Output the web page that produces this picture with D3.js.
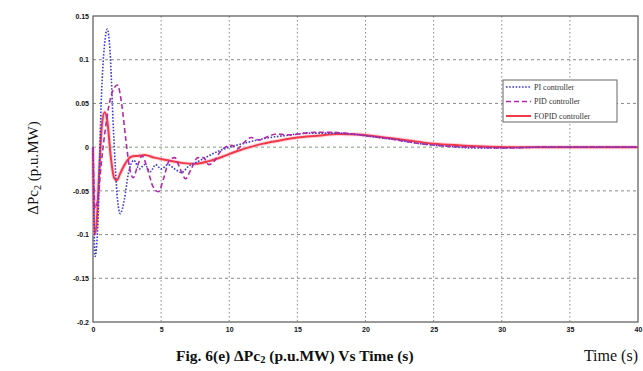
<!DOCTYPE html>
<html>
<head>
<meta charset="utf-8">
<script src="https://cdn.jsdelivr.net/npm/d3@7"></script>
<style>
  html, body { margin: 0; padding: 0; background: #fff; }
  svg { display: block; }
  .tick text { font-family: "Liberation Sans", Arial, sans-serif; font-weight: bold; font-size: 7px; fill: #111; }
</style>
</head>
<body>
<svg id="chart" width="643" height="371"></svg>
<script>
// Axis ticks
const xTicks = [0, 5, 10, 15, 20, 25, 30, 35, 40];
const yTicks = [-0.2, -0.15, -0.1, -0.05, 0, 0.05, 0.1, 0.15];
const yTickLabels = ["-0.2", "-0.15", "-0.1", "-0.05", "0", "0.05", "0.1", "0.15"];

// PI controller response
const piTime = [0, 0.15, 0.35, 0.6, 0.9, 1.05, 1.25, 1.5, 1.8, 2.0, 2.3, 2.6, 3.0, 3.4, 3.8, 4.2, 4.6, 5.0, 5.5, 6.0, 6.5, 7.0, 7.5, 8.0, 9.0, 10, 11, 12, 13, 14, 15, 16, 17, 18, 19, 20, 22, 24, 26, 28, 30, 33, 40];
const piValues = [0, -0.125, -0.09, 0.05, 0.125, 0.135, 0.11, 0.02, -0.06, -0.076, -0.06, -0.03, -0.015, -0.025, -0.02, -0.028, -0.02, -0.025, -0.02, -0.025, -0.029, -0.022, -0.018, -0.014, -0.006, 0.0, 0.004, 0.008, 0.011, 0.013, 0.015, 0.016, 0.016, 0.016, 0.015, 0.013, 0.009, 0.004, 0.001, -0.001, -0.001, 0, 0];

// PID controller response
const pidTime = [0, 0.15, 0.35, 0.6, 0.9, 1.2, 1.5, 1.8, 2.1, 2.4, 2.7, 2.95, 3.3, 3.6, 4.0, 4.4, 4.8, 5.2, 5.6, 6.0, 6.4, 6.8, 7.2, 7.7, 8.1, 8.5, 8.9, 9.3, 9.7, 10.2, 10.6, 11.0, 11.6, 12.2, 12.8, 13.5, 14.5, 15.5, 16.5, 17.5, 18.5, 20, 22, 24, 26, 28, 30, 33, 40];
const pidValues = [0, -0.07, -0.06, -0.02, 0.02, 0.05, 0.066, 0.071, 0.05, 0.01, -0.025, -0.035, -0.02, -0.01, -0.025, -0.045, -0.051, -0.035, -0.015, -0.012, -0.025, -0.036, -0.025, -0.012, -0.012, -0.02, -0.016, -0.006, 0.0, 0.002, -0.002, 0.004, 0.011, 0.008, 0.012, 0.015, 0.014, 0.016, 0.017, 0.017, 0.016, 0.013, 0.009, 0.004, 0.001, 0, -0.001, 0, 0];

// FOPID controller response
const fopidTime = [0, 0.1, 0.25, 0.45, 0.65, 0.85, 1.05, 1.3, 1.55, 1.75, 2.0, 2.4, 2.8, 3.3, 3.8, 4.5, 5.5, 6.5, 7.5, 8.5, 9.5, 10.5, 11.5, 12.5, 13.5, 15, 16.5, 18, 19.5, 21, 23, 25, 27, 29, 31, 40];
const fopidValues = [0, -0.1, -0.09, -0.03, 0.025, 0.04, 0.03, -0.01, -0.035, -0.038, -0.03, -0.018, -0.011, -0.01, -0.009, -0.012, -0.015, -0.018, -0.019, -0.016, -0.011, -0.005, 0.0, 0.004, 0.007, 0.011, 0.013, 0.015, 0.0145, 0.012, 0.008, 0.004, 0.002, 0.0005, 0, 0];

const seriesNames = ["PI controller", "PID controller", "FOPID controller"];

const svg = d3.select("#chart");
const plot = { left: 93, right: 638, top: 16, bottom: 322 };

const x = d3.scaleLinear().domain([0, 40]).range([plot.left, plot.right]);
const y = d3.scaleLinear().domain([-0.2, 0.15]).range([plot.bottom, plot.top]);

// Grid lines
const grid = svg.append("g");
grid.selectAll("line.vg").data(xTicks.slice(1, -1)).join("line")
  .attr("x1", d => x(d)).attr("x2", d => x(d))
  .attr("y1", plot.top).attr("y2", plot.bottom)
  .attr("stroke", "#8a8a8a").attr("stroke-width", 1).attr("stroke-dasharray", "1.5,2.5");
grid.selectAll("line.hg").data(yTicks.slice(1, -1)).join("line")
  .attr("x1", plot.left).attr("x2", plot.right)
  .attr("y1", d => y(d)).attr("y2", d => y(d))
  .attr("stroke", d => d === 0 ? "#7aa07a" : "#8a8a8a").attr("stroke-width", 1).attr("stroke-dasharray", "3,3");

// Axes
const xAxis = d3.axisBottom(x).tickValues(xTicks).tickSize(0).tickPadding(5).tickFormat(d3.format("d"));
const yAxis = d3.axisLeft(y).tickValues(yTicks).tickSize(0).tickPadding(4)
  .tickFormat((d, i) => yTickLabels[i]);
svg.append("g").attr("transform", `translate(0,${plot.bottom})`).call(xAxis).call(g => g.select(".domain").remove());
svg.append("g").attr("transform", `translate(${plot.left},0)`).call(yAxis).call(g => g.select(".domain").remove());

// Plot frame
svg.append("rect")
  .attr("x", plot.left).attr("y", plot.top)
  .attr("width", plot.right - plot.left).attr("height", plot.bottom - plot.top)
  .attr("fill", "none").attr("stroke", "#555").attr("stroke-width", 1.2);

const line = d3.line().curve(d3.curveMonotoneX).x(d => x(d[0])).y(d => y(d[1]));
const zip = (t, v) => t.map((tt, i) => [tt, v[i]]);

const styles = [
  { color: "#3a3ad8", width: 1.6, dash: "1.6,1.6" },
  { color: "#b02aa8", width: 1.6, dash: "5,3" },
  { color: "#f03a4a", width: 2.0, dash: null }
];
const data = [zip(piTime, piValues), zip(pidTime, pidValues), zip(fopidTime, fopidValues)];

const curves = svg.append("g");
// soft halo under the FOPID trace
curves.append("path").datum(data[2]).attr("d", line)
  .attr("fill", "none").attr("stroke", "#ffb0c0").attr("stroke-width", 4).attr("opacity", 0.5);
[2, 0, 1].forEach(i => {
  curves.append("path").datum(data[i]).attr("d", line)
    .attr("fill", "none").attr("stroke", styles[i].color)
    .attr("stroke-width", styles[i].width)
    .attr("stroke-dasharray", styles[i].dash);
});

// Legend
const lg = svg.append("g").attr("transform", "translate(503,80)");
lg.append("rect").attr("width", 114).attr("height", 42)
  .attr("fill", "#fff").attr("stroke", "#666").attr("stroke-width", 1);
seriesNames.forEach((name, i) => {
  const yy = 7 + i * 14.5;
  lg.append("line").attr("x1", 3).attr("x2", 28).attr("y1", yy).attr("y2", yy)
    .attr("stroke", styles[i].color).attr("stroke-width", styles[i].width)
    .attr("stroke-dasharray", styles[i].dash);
  lg.append("text").attr("x", 31).attr("y", yy + 2.5)
    .attr("font-family", "Liberation Serif, serif").attr("font-size", 8).attr("fill", "#333")
    .text(name);
});

// Y-axis title
const yt = svg.append("text")
  .attr("transform", "translate(38,168) rotate(-90)")
  .attr("text-anchor", "middle")
  .attr("font-family", "Liberation Serif, 'Times New Roman', serif")
  .attr("font-size", 15).attr("fill", "#111");
yt.append("tspan").text("ΔPc");
yt.append("tspan").attr("font-size", 10).attr("dy", 3).text("2");
yt.append("tspan").attr("dy", -3).text(" (p.u.MW)");

// Caption
const cap = svg.append("text").attr("x", 176).attr("y", 361)
  .attr("font-family", "Liberation Serif, 'Times New Roman', serif")
  .attr("font-size", 15.5).attr("font-weight", "bold").attr("fill", "#111");
cap.append("tspan").text("Fig. 6(e) ΔPc");
cap.append("tspan").attr("font-size", 10.5).attr("dy", 2).text("2");
cap.append("tspan").attr("dy", -2).text(" (p.u.MW) Vs Time (s)");

svg.append("text").attr("x", 638).attr("y", 361).attr("text-anchor", "end")
  .attr("font-family", "Liberation Serif, 'Times New Roman', serif")
  .attr("font-size", 16).attr("fill", "#111")
  .text("Time (s)");
</script>
</body>
</html>
